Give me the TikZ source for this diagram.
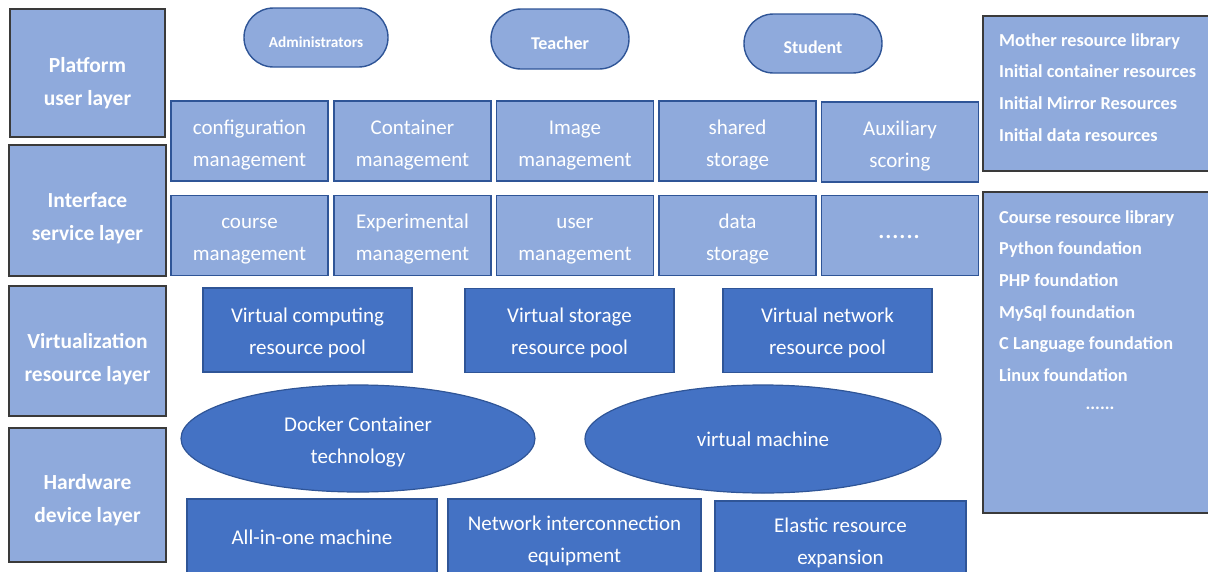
\documentclass[tikz,border=0pt]{standalone}
\usepackage{fontspec}
\setmainfont{Carlito}
\usetikzlibrary{shapes.geometric,shapes.misc,calc}
\definecolor{lightfill}{HTML}{8FAADC}
\definecolor{darkfill}{HTML}{4472C4}
\definecolor{blueedge}{HTML}{2F5597}
\definecolor{grayedge}{HTML}{3A3A3A}
\newcommand{\st}{\strut}
\begin{document}
\begin{tikzpicture}[x=1pt,y=-1pt,
  layerbox/.style={draw=grayedge,line width=1.6pt,fill=lightfill,inner sep=0pt},
  layertext/.style={text=white,align=center,font=\bfseries\fontsize{21.5}{33}\selectfont,inner sep=0pt},
  actor/.style={rounded rectangle,draw=blueedge,line width=1.4pt,fill=lightfill,inner sep=0pt,text=white,font=\bfseries\fontsize{18}{21}\selectfont},
  svc/.style={draw=blueedge,line width=1.8pt,fill=lightfill,inner sep=0pt,minimum width=157pt,minimum height=80pt,text=white,align=center,font=\fontsize{21}{32}\selectfont},
  libbox/.style={draw=grayedge,line width=1.6pt,fill=lightfill,inner sep=0pt},
  libtext/.style={text=white,align=left,font=\bfseries\fontsize{18.3}{31.7}\selectfont,inner sep=0pt,anchor=north west},
  pool/.style={draw=blueedge,line width=1.2pt,fill=darkfill,inner sep=0pt,minimum width=209pt,minimum height=84pt,text=white,align=center,font=\fontsize{21}{32}\selectfont},
  tech/.style={ellipse,draw=blueedge,line width=1.2pt,fill=darkfill,inner sep=0pt,text=white,align=center,font=\fontsize{21}{32}\selectfont},
  hw/.style={draw=blueedge,line width=1.2pt,fill=darkfill,inner sep=0pt},
  hwtext/.style={text=white,align=center,font=\fontsize{21}{32}\selectfont,inner sep=0pt}
]
\useasboundingbox (0,0) rectangle (1208,571);
\clip (0,0) rectangle (1208,571);

% left layer boxes
\node[layerbox,minimum width=155pt,minimum height=128pt] (L1) at (87.5,73) {};
\node[layertext] (L1t) at (87.5,82) {\st Platform\\\st user layer};
\node[layerbox,minimum width=157pt,minimum height=131pt] (L2) at (87.5,210.5) {};
\node[layertext] (L2t) at (87.5,217) {\st Interface\\\st service layer};
\node[layerbox,minimum width=157pt,minimum height=130pt] (L3) at (87.5,351) {};
\node[layertext] (L3t) at (87.5,358.5) {\st Virtualization\\\st resource layer};
\node[layerbox,minimum width=157pt,minimum height=134pt] (L4) at (87.5,495) {};
\node[layertext] (L4t) at (87.5,499.5) {\st Hardware\\\st device layer};

% actors
\node[actor,minimum width=144pt,minimum height=59pt,font=\bfseries\fontsize{15.3}{18}\selectfont] (adm) at (316,37.5) {\rule{0pt}{19.5pt}Administrators};
\node[actor,minimum width=138pt,minimum height=60pt] (tea) at (560,39) {\rule{0pt}{21pt}Teacher};
\node[actor,minimum width=138pt,minimum height=59pt] (stu) at (813,43.5) {\rule{0pt}{21pt}Student};

% service row 1
\node[svc] (s11) at (249.5,141) {\rule{0pt}{28pt}\st configuration\\\st management};
\node[svc] (s12) at (412.5,141) {\rule{0pt}{28pt}\st Container\\\st management};
\node[svc] (s13) at (575,141) {\rule{0pt}{28pt}\st Image\\\st management};
\node[svc] (s14) at (737.5,141) {\rule{0pt}{28pt}\st shared\\\st storage};
\node[svc] (s15) at (900,142) {\rule{0pt}{28pt}\st Auxiliary\\\st scoring};
% service row 2
\node[svc] (s21) at (249.5,235.5) {\rule{0pt}{28pt}\st course\\\st management};
\node[svc] (s22) at (412.5,235.5) {\rule{0pt}{28pt}\st Experimental\\\st management};
\node[svc] (s23) at (575,235.5) {\rule{0pt}{28pt}\st user\\\st management};
\node[svc] (s24) at (737.5,235.5) {\rule{0pt}{28pt}\st data\\\st storage};
\node[svc] (s25) at (900,235.5) {};
\node[text=white,font=\fontsize{28}{30}\selectfont,inner sep=0pt] (s25t) at (899,237.5) {......};

% right library boxes
\node[libbox,minimum width=232pt,minimum height=155pt] (R1) at (1099,93.5) {};
\node[libtext] (R1t) at (999,33) {Mother resource library\\Initial container resources\\Initial Mirror Resources\\Initial data resources};
\node[libbox,minimum width=232pt,minimum height=321pt] (R2) at (1099,352.5) {};
\node[libtext] (R2t) at (999,210) {Course resource library\\Python foundation\\PHP foundation\\MySql foundation\\C Language foundation\\Linux foundation};
\node[text=white,font=\bfseries\fontsize{18}{21}\selectfont,inner sep=0pt] (R2dots) at (1100,408) {......};

% virtualization pools
\node[pool] (p1) at (307.5,330) {\rule{0pt}{26pt}\st Virtual computing\\\st resource pool};
\node[pool] (p2) at (569.5,330.5) {\rule{0pt}{26pt}\st Virtual storage\\\st resource pool};
\node[pool] (p3) at (827.5,330.5) {\rule{0pt}{26pt}\st Virtual network\\\st resource pool};

% technologies
\node[tech,minimum width=354pt,minimum height=107pt] (e1) at (358,438.5) {};
\node[hwtext] (e1t) at (358,441) {\st Docker Container\\\st technology};
\node[tech,minimum width=356pt,minimum height=108pt] (e2) at (763,439) {virtual machine};

% hardware
\node[hw,minimum width=250pt,minimum height=101pt] (h1) at (312,549.5) {};
\node[hwtext] (h1t) at (312,537) {All-in-one machine};
\node[hw,minimum width=253pt,minimum height=101pt] (h2) at (574.5,549.5) {};
\node[hwtext] (h2t) at (574.5,540.5) {\st Network interconnection\\\st equipment};
\node[hw,minimum width=251pt,minimum height=100pt] (h3) at (840.5,551) {};
\node[hwtext] (h3t) at (840.5,542.5) {\st Elastic resource\\\st expansion};
\end{tikzpicture}
\end{document}
